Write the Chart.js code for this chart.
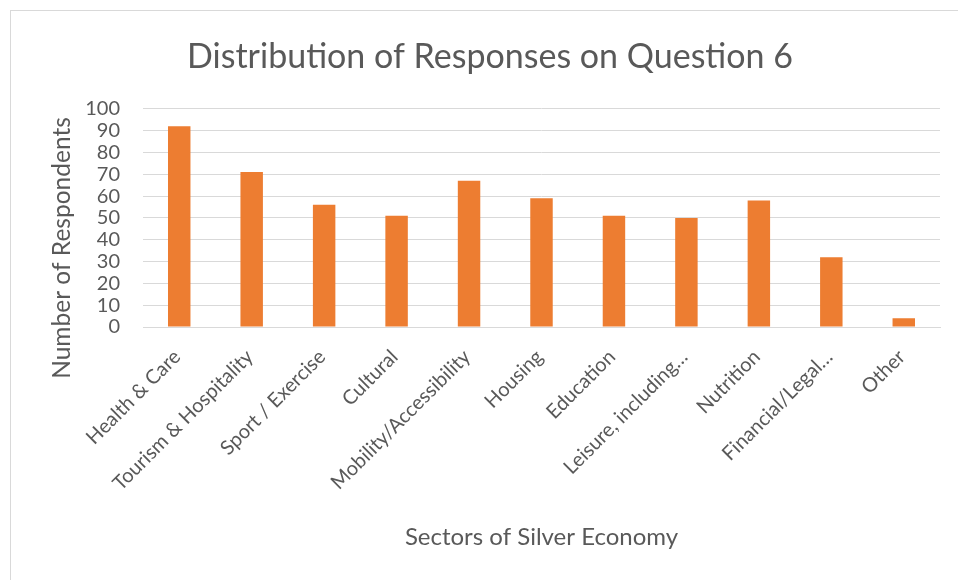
<!DOCTYPE html>
<html>
<head>
<meta charset="utf-8">
<script src="https://cdn.jsdelivr.net/npm/chart.js@4"></script>
<style>
    html, body { margin: 0; padding: 0; background: #fff; overflow: hidden; }
    #frame {
        position: absolute; left: 10px; top: 10px;
        width: 990px; height: 620px;
        border: 1px solid #d9d9d9;
    }
    #wrap { position: absolute; left: 0; top: 0; width: 958px; height: 580px; }
</style>
</head>
<body>
<div id="frame"></div>
<div id="wrap"><canvas id="chart"></canvas></div>
<script>
// Chart data
const categories = ['Health & Care', 'Tourism & Hospitality', 'Sport / Exercise', 'Cultural',
    'Mobility/Accessibility', 'Housing', 'Education', 'Leisure, including…', 'Nutrition',
    'Financial/Legal…', 'Other'];
const responses = [92, 71, 56, 51, 67, 59, 51, 50, 58, 32, 4];
const yMin = 0;
const yMax = 100;
const yStep = 10;

const textColor = '#595959';
const gridColor = '#d9d9d9';
const fontFamily = 'Lato, "Open Sans", sans-serif';
const yTitleText = 'Number of Respondents';

Chart.defaults.font.family = fontFamily;
Chart.defaults.color = textColor;

// Excel centres the value axis title lower than the plot area, so draw it here
const yTitlePlugin = {
    id: 'yTitle',
    afterDraw(chart) {
        const c = chart.ctx;
        c.save();
        c.translate(62, 248);
        c.rotate(-Math.PI / 2);
        c.font = '24.5px ' + fontFamily;
        c.fillStyle = textColor;
        c.textAlign = 'center';
        c.textBaseline = 'middle';
        c.fillText(yTitleText, 0, 0);
        c.restore();
    }
};

const ctx = document.getElementById('chart').getContext('2d');

window.responsesChart = new Chart(ctx, {
    type: 'bar',
    data: {
        labels: categories,
        datasets: [{
            label: 'Responses',
            data: responses,
            backgroundColor: '#ed7d31',
            borderWidth: 0,
            barPercentage: 1,
            categoryPercentage: 0.31
        }]
    },
    plugins: [yTitlePlugin],
    options: {
        responsive: true,
        maintainAspectRatio: false,
        animation: false,
        layout: {
            padding: { left: 40, right: 18, top: 0, bottom: 0 }
        },
        plugins: {
            legend: { display: false },
            tooltip: { enabled: false },
            title: {
                display: true,
                text: 'Distribution of Responses on Question 6',
                color: textColor,
                font: { size: 34, weight: 'normal' },
                padding: { top: 37, bottom: 31 }
            }
        },
        scales: {
            x: {
                grid: { display: false },
                border: { display: true, color: gridColor, width: 1 },
                ticks: {
                    color: textColor,
                    font: { size: 20 },
                    minRotation: 45,
                    maxRotation: 45,
                    autoSkip: false,
                    labelOffset: -2,
                    padding: 10
                },
                title: {
                    display: true,
                    text: 'Sectors of Silver Economy',
                    color: textColor,
                    font: { size: 24 },
                    padding: { top: 0, bottom: 28 }
                },
                afterFit: function(scale) {
                    scale.height = 253;
                }
            },
            y: {
                min: yMin,
                max: yMax,
                grid: { color: gridColor, lineWidth: 1, drawTicks: false },
                border: { display: false },
                ticks: {
                    stepSize: yStep,
                    autoSkip: false,
                    color: textColor,
                    font: { size: 20 },
                    padding: 23
                },
                afterFit: function(scale) {
                    scale.width = 103;
                }
            }
        }
    }
});
</script>
</body>
</html>
